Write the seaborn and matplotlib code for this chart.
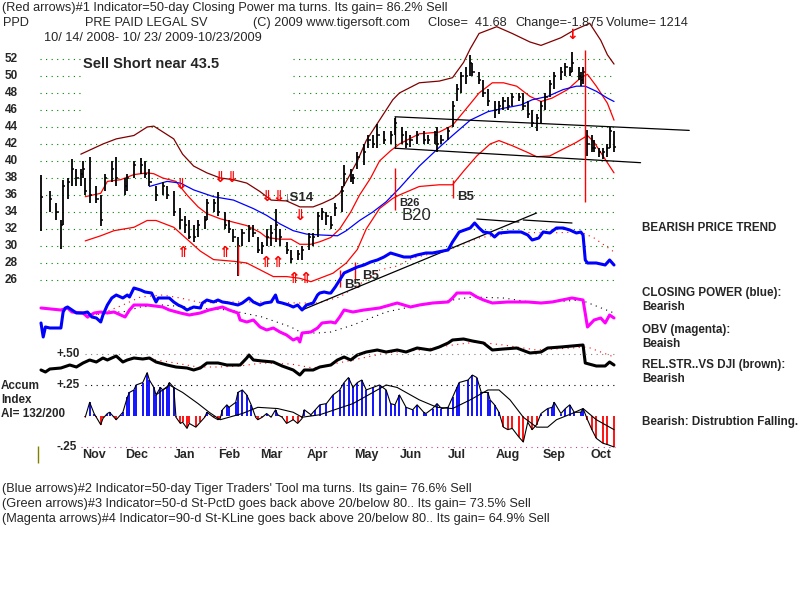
import matplotlib
matplotlib.use("Agg")
import matplotlib.pyplot as plt
import seaborn as sns

# x axis everywhere = trading day counted from 10/14/2008
# ---------------- price bars ----------------
BAR_DAY = [0, 4, 7, 9, 10, 12, 14, 16, 18, 19, 20, 22, 25, 27, 29, 32, 34, 38, 39, 42,
           45, 47, 49, 52, 55, 57, 60, 63, 65, 67, 69, 71, 74, 75, 78, 80, 83, 85, 87, 89,
           91, 94, 96, 98, 100, 102, 104, 106, 108, 111, 113, 116, 118, 121, 123, 125, 127, 129, 131, 133,
           136, 137, 140, 141, 143, 146, 148, 150, 152, 155, 158, 160, 163, 165, 167, 170, 173, 175, 178, 179,
           181, 184, 186, 188, 190, 192, 194, 195, 198, 200, 202, 205, 207, 209, 211, 213, 216, 218, 220, 222,
           224, 226, 228, 230, 232, 235, 237, 239, 240, 243, 244, 245, 247, 249, 250, 252, 254, 256, 257, 259]
BAR_HIGH = [38.4, 36.5, 35.0, 33.0, 37.8, 38.0, 40.2, 39.0, 39.0, 40.0, 38.0, 40.5, 37.0, 36.0, 38.5, 40.0, 40.5, 38.0, 38.5, 40.0,
            40.3, 40.0, 39.0, 37.0, 37.5, 37.0, 36.5, 34.5, 33.5, 33.0, 32.5, 33.0, 33.5, 35.5, 35.5, 36.3, 34.0, 33.0, 32.0, 31.0,
            32.0, 32.5, 32.5, 31.0, 30.5, 32.0, 32.5, 34.3, 32.0, 30.5, 29.5, 29.5, 30.0, 31.5, 31.5, 34.0, 34.5, 34.0, 33.5, 35.0,
            37.0, 39.5, 39.0, 38.5, 41.0, 42.0, 43.0, 43.0, 44.3, 43.5, 43.5, 45.0, 44.0, 43.5, 43.0, 43.5, 43.5, 43.0, 43.5, 44.0,
            43.0, 44.0, 47.0, 49.0, 50.5, 51.0, 52.5, 51.5, 50.5, 49.5, 48.5, 47.0, 47.0, 47.5, 47.5, 48.0, 48.0, 48.0, 47.0, 46.0,
            45.5, 47.0, 48.0, 49.5, 50.5, 51.0, 51.5, 51.0, 52.8, 51.0, 50.5, 51.0, 43.6, 43.0, 42.5, 41.5, 41.5, 42.0, 44.0, 43.5]
BAR_LOW = [31.8, 34.0, 33.0, 29.7, 32.5, 35.5, 37.0, 37.0, 37.0, 38.0, 36.0, 35.0, 35.0, 32.4, 36.5, 37.5, 37.0, 36.0, 36.5, 38.0,
           38.5, 38.0, 37.0, 35.3, 36.0, 35.5, 33.5, 32.0, 31.5, 30.8, 30.5, 31.0, 32.0, 33.0, 34.0, 33.5, 32.0, 31.5, 30.5, 26.5,
           30.0, 30.5, 31.0, 29.2, 29.0, 30.0, 30.0, 30.5, 30.0, 29.0, 28.0, 28.3, 28.3, 29.5, 30.0, 31.0, 33.0, 32.5, 32.0, 33.5,
           34.0, 37.0, 37.5, 37.3, 39.0, 39.5, 41.5, 41.5, 41.5, 42.0, 42.0, 43.0, 42.0, 41.5, 41.6, 42.0, 42.0, 42.0, 42.0, 41.0,
           42.0, 42.5, 44.0, 47.0, 48.0, 49.0, 50.0, 50.0, 49.0, 47.5, 46.5, 45.0, 45.5, 46.0, 46.0, 46.5, 47.0, 46.0, 45.0, 44.0,
           43.5, 44.5, 46.0, 47.5, 48.5, 49.5, 50.0, 50.0, 50.5, 49.5, 48.8, 49.0, 40.6, 41.0, 41.0, 40.5, 40.2, 40.5, 41.5, 41.0]
BAR_CLOSE = [35.8, 35.5, 34.0, 32.5, 37.0, 37.5, 39.0, 38.0, 38.5, 39.0, 36.5, 36.0, 35.5, 33.0, 38.0, 39.0, 38.0, 37.0, 38.0, 39.5,
             39.5, 38.5, 37.5, 36.0, 37.0, 36.0, 34.0, 33.0, 32.5, 31.0, 31.0, 32.5, 33.0, 35.0, 35.0, 34.0, 32.5, 32.0, 31.0, 30.0,
             31.5, 32.0, 31.5, 29.5, 30.0, 31.0, 31.5, 32.5, 31.0, 29.5, 28.5, 29.0, 29.5, 31.0, 31.0, 33.5, 34.0, 33.5, 32.5, 34.5,
             36.5, 38.5, 38.0, 38.0, 40.5, 41.0, 42.5, 42.0, 43.0, 42.5, 43.0, 44.5, 43.0, 42.0, 42.5, 43.0, 42.5, 42.5, 43.0, 42.0,
             42.5, 43.5, 46.5, 48.5, 50.0, 50.0, 51.5, 50.5, 49.5, 48.0, 47.0, 46.0, 46.5, 47.0, 46.5, 47.5, 47.5, 46.5, 45.5, 44.5,
             45.0, 46.5, 47.5, 49.0, 50.0, 50.5, 51.0, 50.5, 51.5, 50.0, 49.5, 50.5, 42.0, 41.5, 41.5, 41.0, 41.0, 41.5, 43.5, 41.68]

# ---------------- bands on the price chart ----------------
UPPER_DAY = [18, 28, 34, 42, 48, 51, 54, 60, 64, 69, 75, 81, 87, 93, 99, 104, 111, 117, 123, 127, 132, 135,
             138, 143, 147, 153, 159, 162, 171, 180, 186, 191, 194, 198, 206, 213, 221, 226, 235, 241, 248, 253, 256, 259]
UPPER_VAL = [40.8, 42.0, 42.6, 43.0, 44.0, 44.1, 43.6, 42.6, 40.8, 39.4, 38.6, 38.0, 37.8, 37.4, 36.4, 35.4, 35.3, 34.6, 34.6, 35.0,
             35.6, 36.2, 37.6, 40.0, 42.4, 44.8, 47.2, 48.0, 49.2, 49.4, 49.8, 51.6, 53.2, 55.0, 55.8, 55.0, 54.0, 53.6, 54.5, 55.4,
             56.2, 54.2, 52.5, 51.4]
MID_DAY = [20, 27, 30, 36, 42, 48, 51, 55, 61, 66, 71, 75, 81, 87, 93, 99, 102, 108, 113, 117, 122, 126, 131, 135,
           140, 144, 149, 153, 158, 162, 171, 180, 186, 193, 198, 204, 209, 215, 221, 226, 231, 238, 244, 247, 251, 256, 259]
MID_VAL = [35.8, 36.2, 37.6, 37.8, 38.4, 38.6, 38.5, 38.0, 37.6, 36.0, 34.6, 33.8, 33.2, 32.8, 32.4, 31.6, 31.0, 30.8, 30.8,
           30.2, 30.2, 30.5, 31.0, 32.0, 34.0, 36.0, 38.0, 40.0, 41.2, 42.0, 43.2, 43.4, 44.2, 46.4, 48.0, 49.2, 49.2, 48.8,
           47.6, 47.0, 47.4, 48.4, 49.8, 50.2, 48.8, 46.8, 44.8]
LOWER_DAY = [20, 27, 33, 42, 48, 52, 60, 66, 72, 78, 87, 93, 99, 105, 111, 117, 122, 126, 132, 138, 143, 147, 153, 159,
             162, 171, 180, 186, 191, 197, 203, 207, 213, 220, 224, 230, 236, 242, 247, 250, 254, 259]
LOWER_VAL = [30.6, 31.2, 31.8, 32.2, 33.0, 33.0, 32.2, 30.8, 29.4, 28.4, 28.2, 28.0, 27.2, 26.4, 26.4, 26.2, 25.8, 26.2, 26.8,
             28.0, 29.6, 32.0, 34.4, 35.6, 36.0, 37.0, 37.2, 37.2, 38.8, 40.6, 42.0, 42.4, 41.8, 41.0, 40.5, 40.6, 41.4, 42.2,
             43.0, 42.2, 40.6, 38.6]
MA_DAY = [49, 57, 63, 69, 78, 87, 96, 102, 108, 114, 120, 126, 134, 138, 144, 150, 156, 162, 171, 180, 186, 194, 202,
          209, 217, 222, 229, 236, 242, 246, 251, 256, 259]
MA_VAL = [37.0, 37.6, 37.4, 36.6, 35.8, 35.4, 34.4, 33.6, 32.6, 31.8, 31.4, 31.3, 31.2, 31.8, 33.0, 34.0, 35.2, 36.8, 39.4,
          41.6, 43.0, 44.8, 45.8, 46.2, 46.6, 47.2, 47.6, 48.4, 48.8, 48.8, 48.2, 47.4, 47.0]

# ---------------- closing power / OBV / relative strength (chart units) ----------------
CP_DAY = [0, 1, 2, 4, 9, 10, 11, 12, 14, 16, 19, 21, 23, 25, 27, 28, 30, 32, 34, 37,
          39, 40, 42, 45, 47, 50, 52, 53, 55, 58, 60, 62, 64, 66, 69, 72, 73, 75, 78, 80,
          82, 85, 89, 91, 94, 96, 99, 101, 104, 106, 107, 109, 112, 114, 116, 118, 120, 123, 125, 126,
          128, 130, 131, 133, 135, 137, 140, 143, 146, 149, 152, 155, 158, 161, 164, 167, 170, 174, 177, 184,
          186, 189, 194, 196, 198, 200, 203, 205, 207, 212, 217, 220, 222, 225, 227, 230, 233, 236, 239, 242,
          244, 245, 246, 247, 251, 255, 257, 259]
CP_VAL = [77, 63, 73, 72, 72, 88, 92, 93, 90, 87, 87, 88, 83, 82, 78, 85, 95, 102, 105, 102,
          105, 103, 112, 110, 108, 107, 98, 102, 102, 102, 98, 95, 93, 90, 93, 92, 97, 100, 98, 100,
          98, 97, 95, 97, 102, 98, 95, 97, 98, 105, 98, 97, 95, 93, 95, 90, 95, 97, 105, 107,
          108, 107, 107, 113, 120, 127, 130, 133, 135, 138, 140, 143, 147, 145, 143, 143, 145, 147, 147, 150,
          158, 168, 172, 177, 172, 168, 167, 163, 167, 168, 168, 165, 160, 162, 168, 167, 172, 172, 170, 167,
          168, 165, 140, 137, 137, 135, 140, 135]
CP_MA_DAY = [21, 28, 37, 45, 55, 63, 73, 85, 100, 116, 125, 135, 140, 149, 153, 161, 168, 184, 198, 213, 229, 244, 250, 259]
CP_MA_VAL = [82, 87, 95, 103, 105, 102, 97, 98, 98, 97, 97, 103, 110, 123, 130, 134, 142, 150, 162, 168, 167, 168, 162, 148]

OBV_DAY = [0, 9, 12, 14, 19, 21, 24, 27, 30, 33, 38, 40, 42, 48, 55, 58, 63, 67, 72, 76,
           80, 82, 85, 89, 90, 93, 96, 99, 102, 105, 108, 111, 114, 116, 117, 118, 122, 125, 127, 131,
           133, 135, 137, 141, 146, 153, 161, 167, 171, 177, 184, 186, 188, 194, 197, 200, 204, 211, 220, 226,
           231, 240, 245, 247, 250, 253, 255, 257, 259]
OBV_VAL = [92, 90, 92, 88, 87, 83, 87, 88, 87, 88, 83, 90, 95, 95, 93, 90, 87, 85, 87, 90,
           92, 93, 90, 87, 80, 78, 80, 73, 70, 72, 68, 65, 60, 62, 58, 67, 68, 72, 77, 78,
           77, 83, 90, 88, 90, 92, 97, 93, 95, 97, 98, 102, 107, 107, 103, 100, 97, 98, 98, 97,
           98, 102, 100, 73, 80, 82, 77, 85, 82]
OBV_MA_DAY = [20, 31, 37, 45, 55, 71, 85, 100, 113, 118, 125, 131, 141, 156, 171, 186, 195, 209, 224, 244, 259]
OBV_MA_VAL = [84, 88, 88, 93, 95, 92, 90, 83, 73, 67, 67, 68, 75, 88, 95, 100, 103, 102, 97, 100, 87]

RS_DAY = [0, 2, 4, 9, 13, 16, 19, 22, 25, 28, 30, 34, 37, 39, 42, 46, 49, 52, 57, 61,
          66, 69, 72, 75, 80, 84, 90, 93, 94, 96, 100, 105, 109, 114, 117, 119, 123, 126, 131, 134,
          137, 140, 143, 147, 152, 156, 161, 165, 170, 176, 180, 184, 186, 191, 195, 200, 204, 209, 215, 221,
          226, 229, 235, 240, 245, 246, 251, 255, 257, 259]
RS_VAL = [30, 28, 31, 32, 35, 33, 37, 40, 38, 42, 40, 44, 38, 40, 42, 41, 42, 38, 35, 33,
          32, 30, 32, 37, 37, 35, 35, 42, 45, 40, 39, 38, 34, 30, 25, 30, 30, 33, 35, 40,
          43, 40, 45, 48, 50, 48, 50, 48, 52, 50, 53, 57, 60, 61, 59, 57, 50, 51, 52, 47,
          48, 52, 53, 54, 55, 37, 34, 34, 38, 35]
RS_MA_DAY = [49, 58, 71, 80, 90, 100, 113, 123, 141, 156, 171, 186, 197, 209, 224, 240, 247, 259]
RS_MA_VAL = [41, 38, 33, 33, 34, 37, 36, 32, 40, 47, 50, 55, 58, 55, 50, 52, 53, 43]

# ---------------- accumulation index ----------------
AI_DAY = [20, 22, 24, 25, 27, 28, 30, 31, 33, 34, 36, 37, 39, 40, 42, 43, 46, 48, 49, 51,
          52, 54, 55, 57, 58, 60, 61, 63, 64, 66, 67, 70, 72, 74, 75, 78, 80, 81, 82, 84,
          85, 88, 89, 91, 93, 95, 97, 98, 100, 102, 104, 106, 107, 109, 111, 114, 116, 118, 119, 122,
          124, 126, 129, 132, 135, 137, 139, 141, 143, 145, 147, 150, 153, 156, 158, 160, 162, 165, 168, 170,
          173, 174, 177, 179, 181, 184, 186, 188, 189, 193, 195, 197, 199, 202, 203, 205, 207, 209, 211, 213,
          216, 218, 220, 222, 224, 226, 229, 231, 232, 235, 237, 239, 241, 244, 245, 247, 249, 251, 254, 256, 259]
AI_VAL = [-0.01, 0.11, 0.02, -0.01, -0.07, -0.02, 0.02, 0.03, -0.01, -0.03, 0.01, 0.03, 0.15, 0.19, 0.21, 0.25, 0.27, 0.35, 0.29, 0.23,
          0.17, 0.23, 0.21, 0.23, 0.27, 0.23, -0.01, -0.06, -0.05, -0.10, -0.06, -0.09, -0.05, -0.01, 0.03, -0.01, -0.03, -0.02, 0.05, 0.09,
          0.07, 0.11, 0.19, 0.21, 0.17, 0.09, -0.01, -0.03, -0.01, 0.02, -0.01, 0.05, 0.01, -0.01, -0.06, -0.03, -0.06, -0.02, 0.05, 0.01,
          0.05, 0.09, 0.10, 0.17, 0.21, 0.27, 0.31, 0.23, 0.27, 0.29, 0.21, 0.23, 0.25, 0.21, 0.10, 0.09, 0.17, 0.07, 0.05, 0.09,
          0.03, 0.02, 0.06, 0.10, 0.06, 0.07, 0.15, 0.23, 0.27, 0.29, 0.33, 0.31, 0.19, 0.19, 0.13, 0.09, 0.03, -0.09, -0.11, -0.10,
          -0.17, -0.21, -0.05, -0.11, -0.07, 0.02, 0.06, 0.07, 0.11, 0.02, 0.06, 0.09, 0.03, 0.03, 0.06, -0.03, -0.11, -0.18, -0.22, -0.23, -0.25]
AI_MA_DAY = [52, 58, 64, 71, 76, 81, 85, 91, 98, 107, 114, 118, 126, 141, 156, 161, 171, 179, 186, 194, 202, 207, 212,
             218, 224, 229, 233, 240, 245, 251, 259]
AI_MA_VAL = [0.17, 0.25, 0.19, 0.10, 0.03, -0.03, -0.01, 0.02, 0.07, 0.06, 0.03, -0.01, 0.01, 0.10, 0.25, 0.23, 0.13, 0.07,
             0.06, 0.13, 0.21, 0.21, 0.13, -0.01, -0.09, -0.09, -0.03, 0.02, 0.06, -0.03, -0.11]

# ---------------- signals ----------------
SELL_DAY = [63, 83.5, 105, 117]
SELL_MARK = ["\u21d3", "\u21d3\u21d3", "\u21d3\u21d3", "\u21d3"]
SELL_PRICE = [37.2, 38.1, 35.8, 33.6]
BUY_DAY = [64, 83, 104.5, 117]
BUY_MARK = ["\u21d1", "\u21d1", "\u21d1\u21d1", "\u21d1\u21d1"]
BUY_PRICE = [29.2, 29.2, 28.0, 26.2]
STEM_DAY = [89, 135, 142, 160, 186, 246]
STEM_LOW = [26.6, 25.2, 26.0, 34.2, 35.6, 35.2]
STEM_HIGH = [30.1, 27.2, 28.1, 39.2, 37.8, 53.1]

MONTHS = ["Nov", "Dec", "Jan", "Feb", "Mar", "Apr", "May", "Jun", "Jul", "Aug", "Sep", "Oct"]
MONTH_DAY = [24, 43, 65, 85, 104, 125, 147, 167, 188, 211, 232, 253]
PRICE_TICKS = list(range(26, 53, 2))

W, H = 800, 600


def fx(x):
    return x / W


def fy(y):
    return 1 - y / H


sns.set_style("white")
plt.rcParams["font.family"] = ["Liberation Sans", "DejaVu Sans"]

fig = plt.figure(figsize=(8, 6), dpi=100)
fig.patch.set_facecolor("white")


def layer(ylim):
    a = fig.add_axes([0, 0, 1, 1])
    a.set_xlim(-18.53, 343.06)
    a.set_ylim(*ylim)
    a.axis("off")
    a.patch.set_visible(False)
    return a


ax = layer((-11.65, 58.94))
ax_osc = layer((-200, 400))
ax_ai = layer((-1.484, 3.355))

DOT = (0, (1, 4))
GREEN = "#008000"
RED = "#ff0000"

# price gridlines (gap behind the "Sell Short" note)
for p in PRICE_TICKS:
    if p >= 46:
        ax.hlines(p, -0.5, 18.5, colors=GREEN, linestyles=DOT, lw=0.8)
        ax.hlines(p, 114, 259.5, colors=GREEN, linestyles=DOT, lw=0.8)
    else:
        ax.hlines(p, -0.5, 259.5, colors=GREEN, linestyles=DOT, lw=0.8)
    ax.text(5 / W, p, str(p), transform=ax.get_yaxis_transform(), ha="left", va="center",
            fontsize=8.5, fontweight="bold")

# bands
sns.lineplot(x=UPPER_DAY, y=UPPER_VAL, ax=ax, color="#800000", lw=0.9, estimator=None, sort=False)
sns.lineplot(x=MID_DAY, y=MID_VAL, ax=ax, color=RED, lw=0.9, estimator=None, sort=False)
sns.lineplot(x=LOWER_DAY, y=LOWER_VAL, ax=ax, color=RED, lw=0.9, estimator=None, sort=False)
sns.lineplot(x=MA_DAY, y=MA_VAL, ax=ax, color="#0000ff", lw=0.9, estimator=None, sort=False)

# trend lines on price
ax.plot([160, 293], [45.2, 43.6], color="black", lw=0.9)
ax.plot([160, 271], [41.5, 39.8], color="black", lw=0.9)
ax.plot([160, 160], [41.5, 45.2], color="black", lw=0.9)

# price bars
ax.vlines(BAR_DAY, BAR_LOW, BAR_HIGH, colors="black", lw=1.3)
ax.hlines(BAR_CLOSE, BAR_DAY, [d + 1.0 for d in BAR_DAY], colors="black", lw=1.1)

# signals
ax.vlines(STEM_DAY, STEM_LOW, STEM_HIGH, colors=RED, lw=1.0)
for d, m, p in zip(SELL_DAY, SELL_MARK, SELL_PRICE):
    ax.text(d, p, m, color=RED, fontsize=11, fontweight="bold", ha="center", va="center",
            family="DejaVu Sans")
for d, m, p in zip(BUY_DAY, BUY_MARK, BUY_PRICE):
    ax.text(d, p, m, color=RED, fontsize=11, fontweight="bold", ha="center", va="center",
            family="DejaVu Sans")
ax.text(240, 54.8, "\u2193", color=RED, fontsize=10, fontweight="bold", ha="center", va="center",
        family="DejaVu Sans")
ax.text(109.5, 35.7, "\u2193S14", fontsize=9.5, fontweight="bold", ha="left", va="center",
        family=["Liberation Sans", "DejaVu Sans"])
ax.text(162, 35.0, "B26", fontsize=8, fontweight="bold", ha="left", va="center")
ax.text(163, 33.6, "B20", fontsize=12, ha="left", va="center")
ax.text(188, 35.8, "B5", fontsize=9.5, fontweight="bold", ha="left", va="center")
ax.text(137, 25.4, "B5", fontsize=9.5, fontweight="bold", ha="left", va="center")
ax.text(145, 26.5, "B5", fontsize=9.5, fontweight="bold", ha="left", va="center")

# closing power, OBV, relative strength
sns.lineplot(x=CP_MA_DAY, y=CP_MA_VAL, ax=ax_osc, color=RED, lw=0.8, linestyle=DOT, estimator=None, sort=False)
sns.lineplot(x=OBV_MA_DAY, y=OBV_MA_VAL, ax=ax_osc, color="black", lw=0.8, linestyle=DOT, estimator=None, sort=False)
sns.lineplot(x=RS_MA_DAY, y=RS_MA_VAL, ax=ax_osc, color=RED, lw=0.8, linestyle=DOT, estimator=None, sort=False)
ax_osc.plot([118, 224], [90, 187], color="black", lw=0.9)
ax_osc.plot([197, 216], [181, 178], color="black", lw=0.9)
ax_osc.plot([218, 240], [180, 177], color="black", lw=0.9)
sns.lineplot(x=OBV_DAY, y=OBV_VAL, ax=ax_osc, color="#ff00ff", lw=2.2, estimator=None, sort=False)
sns.lineplot(x=RS_DAY, y=RS_VAL, ax=ax_osc, color="black", lw=2.2, estimator=None, sort=False)
sns.lineplot(x=CP_DAY, y=CP_VAL, ax=ax_osc, color="#0000ff", lw=2.2, estimator=None, sort=False)

# accumulation index
ax_ai.hlines(0.5, 20, 259.5, colors="#808080", linestyles=DOT, lw=0.8)
ax_ai.hlines(0.25, 20, 259.5, colors="black", linestyles=DOT, lw=0.8)
ax_ai.hlines(-0.25, 18, 259.5, colors="#c04090", linestyles=DOT, lw=0.8)
ax_ai.vlines(AI_DAY, 0, AI_VAL, colors=["#0000ff" if v >= 0 else RED for v in AI_VAL], lw=1.3)
sns.lineplot(x=AI_DAY, y=AI_VAL, ax=ax_ai, color="black", lw=0.8, estimator=None, sort=False)
sns.lineplot(x=AI_MA_DAY, y=AI_MA_VAL, ax=ax_ai, color="black", lw=0.8, estimator=None, sort=False)
ax_ai.vlines(-1.4, -0.38, -0.24, colors="#808000", lw=1.0)
for v, lab in [(0.5, "+.50"), (0.25, "+.25"), (-0.25, "-.25")]:
    ax_ai.text(57 / W, v, lab, transform=ax_ai.get_yaxis_transform(), ha="left", va="center",
               fontsize=8.5, fontweight="bold")

# months
for d, m in zip(MONTH_DAY, MONTHS):
    ax.text(d, fy(455), m, transform=ax.get_xaxis_transform(), ha="center", va="center",
            fontsize=9, fontweight="bold")

# header / footer text
small = dict(fontsize=9.2, va="center", ha="left")
fig.text(fx(2), fy(8), "(Red arrows)#1 Indicator=50-day Closing Power ma turns. Its gain= 86.2% Sell", **small)
fig.text(fx(3), fy(23), "PPD", **small)
fig.text(fx(85), fy(23), "PRE PAID LEGAL SV", **small)
fig.text(fx(253), fy(23), "(C) 2009 www.tigersoft.com", **small)
fig.text(fx(428), fy(23), "Close=  41.68", **small)
fig.text(fx(515), fy(23), "Change=-1.875", **small)
fig.text(fx(606), fy(23), "Volume= 1214", **small)
fig.text(fx(44), fy(38), "10/ 14/ 2008- 10/ 23/ 2009-10/23/2009", **small)
fig.text(fx(2), fy(489), "(Blue arrows)#2 Indicator=50-day Tiger Traders' Tool ma turns. Its gain= 76.6% Sell", **small)
fig.text(fx(2), fy(504), "(Green arrows)#3 Indicator=50-d St-PctD goes back above 20/below 80.. Its gain= 73.5% Sell", **small)
fig.text(fx(2), fy(519), "(Magenta arrows)#4 Indicator=90-d St-KLine goes back above 20/below 80.. Its gain= 64.9% Sell", **small)

fig.text(fx(83), fy(64), "Sell Short near 43.5", fontsize=10.5, fontweight="bold", va="center", ha="left")

bold = dict(fontsize=8.4, fontweight="bold", va="center", ha="left")
fig.text(fx(1), fy(386), "Accum", **bold)
fig.text(fx(1), fy(400), "Index", **bold)
fig.text(fx(1), fy(414), "AI= 132/200", **bold)
fig.text(fx(642), fy(228), "BEARISH PRICE TREND", **bold)
fig.text(fx(642), fy(293), "CLOSING POWER (blue):", **bold)
fig.text(fx(642), fy(307), "Bearish", **bold)
fig.text(fx(642), fy(330), "OBV (magenta):", **bold)
fig.text(fx(642), fy(344), "Beaish", **bold)
fig.text(fx(642), fy(365), "REL.STR..VS DJI (brown):", **bold)
fig.text(fx(642), fy(379), "Bearish", **bold)
fig.text(fx(642), fy(422), "Bearish: Distrubtion Falling.", **bold)

fig.savefig("out.png", dpi=100)
